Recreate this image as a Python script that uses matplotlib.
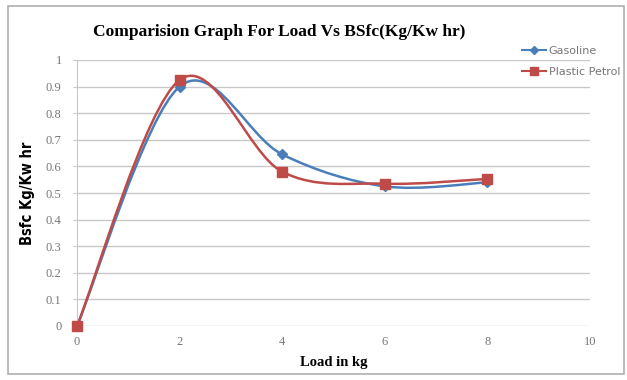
import matplotlib
matplotlib.use("Agg")
import matplotlib.pyplot as plt
from matplotlib.path import Path
from matplotlib.patches import PathPatch, Rectangle
from matplotlib.lines import Line2D

load = [0, 2, 4, 6, 8]
gasoline = [0, 0.90, 0.645, 0.525, 0.54]
plastic = [0, 0.925, 0.58, 0.535, 0.553]

x_ticks = [0, 2, 4, 6, 8, 10]
y_ticks = [0, 0.1, 0.2, 0.3, 0.4, 0.5, 0.6, 0.7, 0.8, 0.9, 1]

blue = '#4A7EBB'
red = '#BE4B48'


def smooth_path(xs, ys):
	# excel style smoothed line: cubic bezier through each point
	verts = [(xs[0], ys[0])]
	codes = [Path.MOVETO]
	n = len(xs)
	for i in range(n - 1):
		x0, y0 = xs[max(i - 1, 0)], ys[max(i - 1, 0)]
		x1, y1 = xs[i], ys[i]
		x2, y2 = xs[i + 1], ys[i + 1]
		x3, y3 = xs[min(i + 2, n - 1)], ys[min(i + 2, n - 1)]
		c1 = (x1 + (x2 - x0) / 6, y1 + (y2 - y0) / 6)
		c2 = (x2 - (x3 - x1) / 6, y2 - (y3 - y1) / 6)
		verts += [c1, c2, (x2, y2)]
		codes += [Path.CURVE4] * 3
	return Path(verts, codes)


fig = plt.figure(figsize=(6.27, 3.8), dpi=100)
fig.patches.append(Rectangle((8 / 627, 6 / 380), 616 / 627, 368 / 380,
	transform=fig.transFigure, fill=False, edgecolor='#b0b0b0', linewidth=1.2))

ax = fig.add_axes([77 / 627, 54 / 380, 513 / 627, 266 / 380])

for ys, color, marker, ms in [(gasoline, blue, 'D', 5), (plastic, red, 's', 7)]:
	ax.add_patch(PathPatch(smooth_path(load, ys), fill=False, edgecolor=color, linewidth=1.8))
	ax.plot(load, ys, linestyle='none', marker=marker, markersize=ms, color=color, clip_on=False, zorder=5)

ax.set_xlim(0, 10)
ax.set_ylim(0, 1)
ax.set_xticks(x_ticks)
ax.set_yticks(y_ticks)
ax.set_yticklabels(['0', '0.1', '0.2', '0.3', '0.4', '0.5', '0.6', '0.7', '0.8', '0.9', '1'])
ax.grid(axis='y', color='#c8c8c8', linewidth=1)
ax.set_axisbelow(True)
for side in ['top', 'right', 'bottom']:
	ax.spines[side].set_visible(False)
ax.spines['left'].set_color('#c8c8c8')
ax.tick_params(axis='both', colors='#c8c8c8', labelcolor='#777777', labelsize=8, length=3)
ax.tick_params(axis='x', length=0, pad=7)
ax.tick_params(axis='y', pad=8)
for lbl in ax.get_xticklabels() + ax.get_yticklabels():
	lbl.set_family('Liberation Serif')
	lbl.set_fontsize(9)

ax.set_xlabel('Load in kg', fontsize=10.5, fontweight='bold', family='Liberation Serif', labelpad=6)
ax.set_ylabel('Bsfc Kg/Kw hr', fontsize=10.5, fontweight='bold', family='DejaVu Sans',
	fontstretch='condensed', labelpad=8)
fig.text(279 / 627, 0.915, 'Comparision Graph For Load Vs BSfc(Kg/Kw hr)', ha='center', va='center',
	fontsize=12.5, fontweight='bold', family='Liberation Serif')

handles = [Line2D([], [], color=blue, marker='D', markersize=4, linewidth=1.5),
	Line2D([], [], color=red, marker='s', markersize=6, linewidth=1.5)]
leg = fig.legend(handles, ['Gasoline', 'Plastic Petrol'], loc='upper left',
	bbox_to_anchor=(512 / 627, 1 - 36 / 380), frameon=False, fontsize=8,
	handlelength=2.2, handletextpad=0.2, labelspacing=1.0, labelcolor='#777777')

fig.savefig('out.png', dpi=100)
